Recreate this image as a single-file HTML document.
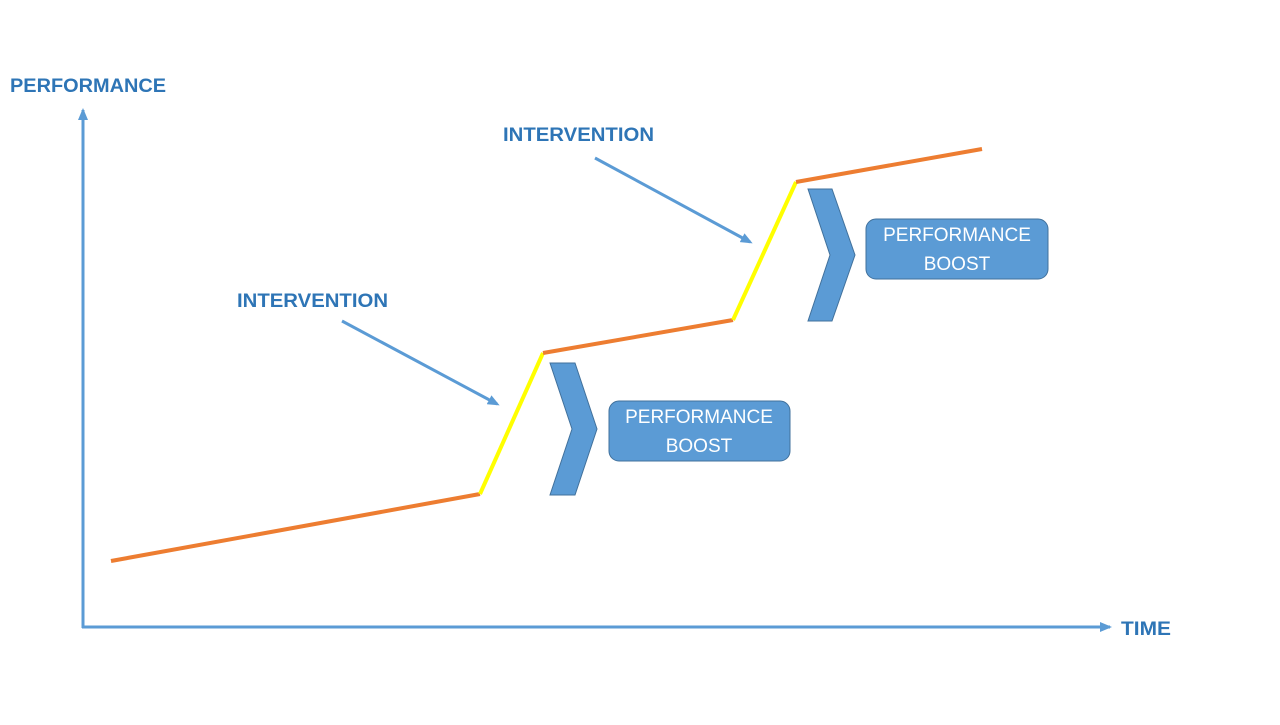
<!DOCTYPE html>
<html><head><meta charset="utf-8"><style>
body{margin:0;background:#fff;}
svg text{font-family:"Liberation Sans",sans-serif;}
</style></head><body>
<svg width="1280" height="720" viewBox="0 0 1280 720" xmlns="http://www.w3.org/2000/svg">
<defs>
<marker id="ah" markerWidth="12" markerHeight="10" refX="9" refY="5" orient="auto" markerUnits="userSpaceOnUse"><path d="M0,0 L12,5 L0,10 z" fill="#5b9bd5"/></marker>
<marker id="ax" markerWidth="12" markerHeight="10" refX="10" refY="5" orient="auto" markerUnits="userSpaceOnUse"><path d="M0,0 L12,5 L0,10 z" fill="#5b9bd5"/></marker>
</defs>
<line x1="83" y1="628" x2="83" y2="110" stroke="#5b9bd5" stroke-width="3" marker-end="url(#ax)"/>
<line x1="82" y1="627" x2="1110" y2="627" stroke="#5b9bd5" stroke-width="3" marker-end="url(#ax)"/>
<text x="10" y="92" font-size="19" font-weight="bold" fill="#2e75b6" textLength="156" lengthAdjust="spacingAndGlyphs">PERFORMANCE</text>
<text x="1121" y="635" font-size="19" font-weight="bold" fill="#2e75b6" textLength="50" lengthAdjust="spacingAndGlyphs">TIME</text>
<text x="237" y="307" font-size="19" font-weight="bold" fill="#2e75b6" textLength="151" lengthAdjust="spacingAndGlyphs">INTERVENTION</text>
<text x="503" y="141" font-size="19" font-weight="bold" fill="#2e75b6" textLength="151" lengthAdjust="spacingAndGlyphs">INTERVENTION</text>
<line x1="342" y1="321" x2="497" y2="404" stroke="#5b9bd5" stroke-width="3" marker-end="url(#ah)"/>
<line x1="595" y1="158" x2="750" y2="242" stroke="#5b9bd5" stroke-width="3" marker-end="url(#ah)"/>
<g stroke-width="4" fill="none">
<line x1="111" y1="561" x2="480" y2="494" stroke="#ed7d31"/>
<line x1="480" y1="494" x2="543" y2="353" stroke="#ffff00"/>
<line x1="543" y1="353" x2="733" y2="320" stroke="#ed7d31"/>
<line x1="733" y1="320" x2="796" y2="182" stroke="#ffff00"/>
<line x1="796" y1="182" x2="982" y2="149" stroke="#ed7d31"/>
</g>
<polygon points="550,363 575,363 597,429 575,495 550,495 572,429" fill="#5b9bd5" stroke="#41719c" stroke-width="1"/>
<polygon points="808,189 832,189 855,255 832,321 808,321 830,255" fill="#5b9bd5" stroke="#41719c" stroke-width="1"/>
<rect x="609" y="401" width="181" height="60" rx="10" fill="#5b9bd5" stroke="#41719c"/>
<rect x="866" y="219" width="182" height="60" rx="10" fill="#5b9bd5" stroke="#41719c"/>
<g font-size="19" fill="#fff" text-anchor="middle">
<text x="699" y="423">PERFORMANCE</text>
<text x="699" y="452">BOOST</text>
<text x="957" y="241">PERFORMANCE</text>
<text x="957" y="270">BOOST</text>
</g>
</svg>
</body></html>
